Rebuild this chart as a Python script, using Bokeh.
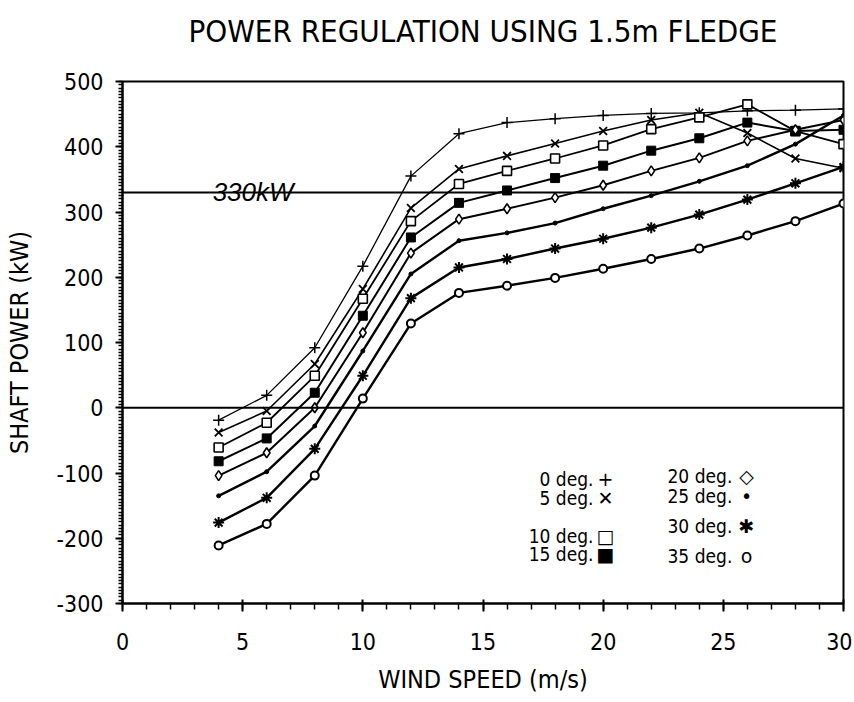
from bokeh.plotting import figure
from bokeh.models import Range1d, Span, Label, FixedTicker, PrintfTickFormatter
from bokeh.embed import file_html
from bokeh.resources import INLINE

# ---- data ----
wind_speed = [4, 6, 8, 10, 12, 14, 16, 18, 20, 22, 24, 26, 28, 30]
deg0 = [-19, 19, 92, 217, 355, 420, 437, 443, 448, 451, 452, 455, 456, 458]
deg5 = [-38, -5, 67, 182, 306, 366, 386, 405, 424, 441, 452, 421, 382, 367]
deg10 = [-61, -23, 49, 167, 286, 343, 363, 382, 402, 427, 445, 465, 424, 404]
deg15 = [-82, -47, 23, 141, 261, 314, 333, 352, 371, 394, 413, 437, 424, 426]
deg20 = [-104, -69, 0, 115, 237, 289, 305, 322, 341, 363, 383, 409, 426, 441]
deg25 = [-135, -98, -28, 87, 205, 256, 268, 283, 305, 325, 347, 371, 404, 448]
deg30 = [-176, -138, -63, 49, 168, 215, 228, 244, 259, 276, 296, 319, 344, 369]
deg35 = [-211, -178, -104, 14, 129, 176, 187, 199, 213, 228, 244, 264, 286, 313]
rated_power = 330
x_ticks = [0, 5, 10, 15, 20, 25, 30]
y_ticks = [-300, -200, -100, 0, 100, 200, 300, 400, 500]
legend_left = ["0 deg.", "5 deg.", "10 deg.", "15 deg."]
legend_left_sym = ["+", "\u2715", "\u25a1", "\u25a0"]
legend_right = ["20 deg.", "25 deg.", "30 deg.", "35 deg."]
legend_right_sym = ["\u25c7", "\u2022", "\u2731", "o"]
title_text = "POWER REGULATION USING 1.5m FLEDGE"

FONT = "DejaVu Sans Condensed, Liberation Sans Narrow, Liberation Sans, sans-serif"

p = figure(width=852, height=700, output_backend="svg", toolbar_location=None,
           x_range=Range1d(0, 30), y_range=Range1d(-300, 500),
           min_border_left=122, min_border_right=9, min_border_top=81,
           min_border_bottom=97,
           title=title_text + "\n\u00a0")
p.grid.visible = False
p.outline_line_color = "black"
p.outline_line_width = 2
p.background_fill_color = "white"
p.border_fill_color = "white"

p.title.align = "center"
p.title.vertical_align = "bottom"
p.title.text_font = FONT
p.title.text_font_size = "31px"
p.title.text_font_style = "normal"
p.title.text_color = "black"
p.title.text_line_height = 0.9
p.title.standoff = 0

# axes
p.xaxis.ticker = FixedTicker(ticks=x_ticks, minor_ticks=list(range(0, 31)))
p.yaxis.ticker = FixedTicker(ticks=y_ticks, minor_ticks=list(range(-300, 501, 5)))
p.xaxis.formatter = PrintfTickFormatter(format="%d")
p.yaxis.formatter = PrintfTickFormatter(format="%d")
for ax in (p.xaxis[0], p.yaxis[0]):
    ax.axis_line_color = "black"
    ax.axis_line_width = 2
    ax.major_tick_line_color = "black"
    ax.major_tick_line_width = 2
    ax.minor_tick_line_color = "black"
    ax.minor_tick_line_width = 1.5
    ax.major_label_text_font = FONT
    ax.major_label_text_font_size = "23px"
    ax.major_label_text_color = "black"
    ax.axis_label_text_font = FONT
    ax.axis_label_text_font_size = "25px"
    ax.axis_label_text_font_style = "normal"
    ax.axis_label_text_color = "black"
p.xaxis.major_tick_out = 8
p.xaxis.major_tick_in = 4
p.xaxis.minor_tick_out = 6
p.xaxis.minor_tick_in = 0
p.xaxis.major_label_standoff = 21
p.xaxis.axis_label = "WIND SPEED (m/s)"
p.xaxis.axis_label_standoff = 12
p.yaxis.major_tick_out = 7
p.yaxis.major_tick_in = 0
p.yaxis.minor_tick_out = 4
p.yaxis.minor_tick_in = 0
p.yaxis.major_label_standoff = 12
p.yaxis.axis_label = "SHAFT POWER (kW)"
p.yaxis.axis_label_standoff = 20

# reference lines
p.add_layout(Span(location=rated_power, dimension="width", line_color="black", line_width=2))
p.add_layout(Span(location=0, dimension="width", line_color="black", line_width=2))
p.add_layout(Label(x=3.75, y=rated_power, text="330kW", text_font="Liberation Sans",
                   text_font_style="italic", text_font_size="26px", text_color="black",
                   text_baseline="alphabetic", y_offset=0))

# series
p.line(wind_speed, deg0, line_color="black", line_width=1.3)
p.scatter(wind_speed, deg0, marker="cross", size=11, line_color="black", line_width=1.5)
p.line(wind_speed, deg5, line_color="black", line_width=1.6)
p.scatter(wind_speed, deg5, marker="x", size=11, line_color="black", line_width=1.8)
p.line(wind_speed, deg10, line_color="black", line_width=1.8)
p.scatter(wind_speed, deg10, marker="square", size=9, line_color="black",
          fill_color="white", line_width=1.6)
p.line(wind_speed, deg15, line_color="black", line_width=2)
p.scatter(wind_speed, deg15, marker="square", size=9, line_color="black",
          fill_color="black")
p.line(wind_speed, deg20, line_color="black", line_width=2)
p.scatter(wind_speed, deg20, marker="diamond", size=10, line_color="black",
          fill_color="white", line_width=1.6)
p.line(wind_speed, deg25, line_color="black", line_width=2.4)
p.scatter(wind_speed, deg25, marker="circle", size=4, line_color="black",
          fill_color="black")
p.line(wind_speed, deg30, line_color="black", line_width=2.4)
p.scatter(wind_speed, deg30, marker="asterisk", size=11, line_color="black", line_width=2)
p.line(wind_speed, deg35, line_color="black", line_width=2.4)
p.scatter(wind_speed, deg35, marker="circle", size=8, line_color="black",
          fill_color="white", line_width=2)

# legend as text (screen units, relative to frame bottom-left)
left_y = [125, 106, 68, 50]
right_y = [128, 108, 78, 48]
for t, s, yy in zip(legend_left, legend_left_sym, left_y):
    p.add_layout(Label(x=471, y=yy, x_units="screen", y_units="screen", text=t,
                       text_font=FONT, text_font_size="19px", text_align="right",
                       text_baseline="middle", text_color="black"))
    p.add_layout(Label(x=483, y=yy, x_units="screen", y_units="screen", text=s,
                       text_font="DejaVu Sans", text_font_size="19px", text_align="center",
                       text_baseline="middle", text_color="black"))
for t, s, yy in zip(legend_right, legend_right_sym, right_y):
    p.add_layout(Label(x=545, y=yy, x_units="screen", y_units="screen", text=t,
                       text_font=FONT, text_font_size="19px", text_align="left",
                       text_baseline="middle", text_color="black"))
    p.add_layout(Label(x=624, y=yy, x_units="screen", y_units="screen", text=s,
                       text_font="DejaVu Sans", text_font_size="19px", text_align="center",
                       text_baseline="middle", text_color="black"))

open("out.html", "w").write(file_html(p, INLINE))
